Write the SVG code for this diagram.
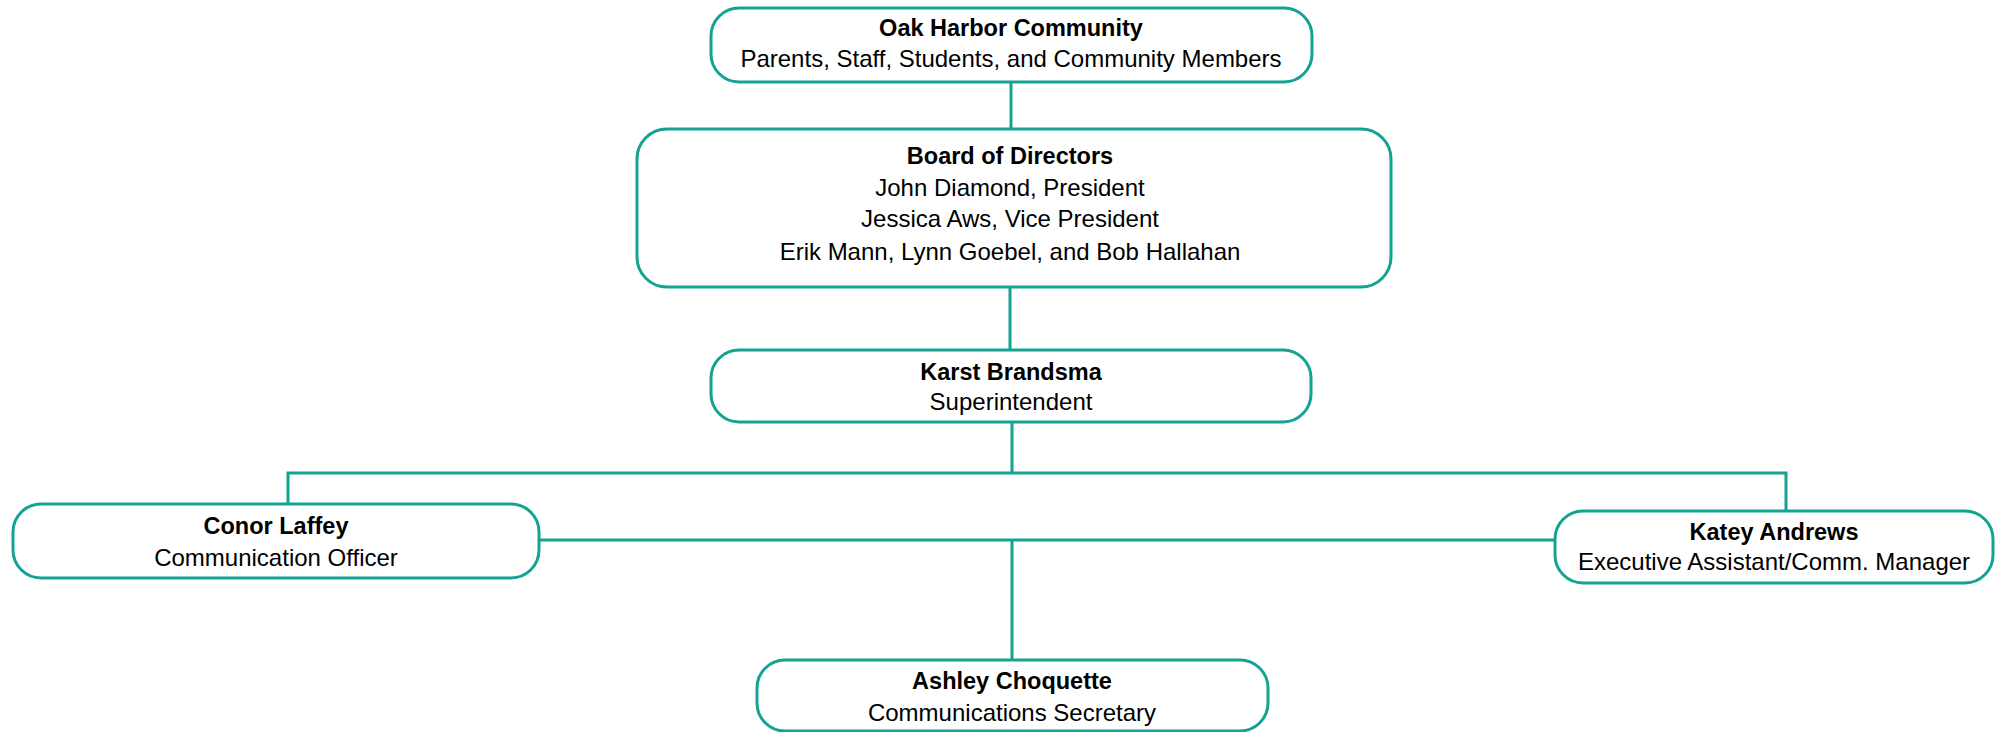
<svg xmlns="http://www.w3.org/2000/svg" width="1997" height="732" viewBox="0 0 1997 732">
<style>
.box{fill:#fff;stroke:#14a293;stroke-width:3}
.ln{fill:none;stroke:#14a293;stroke-width:3}
text{font-family:"Liberation Sans",Arial,sans-serif;font-size:24px;fill:#000;text-anchor:middle}
.b{font-weight:bold;font-size:23.5px}
</style>
<rect width="1997" height="732" fill="#fff"/>
<g id="connectors">
<line class="ln" x1="1011" y1="82" x2="1011" y2="129"/>
<line class="ln" x1="1010" y1="287" x2="1010" y2="350"/>
<line class="ln" x1="1012" y1="422" x2="1012" y2="473"/>
<polyline class="ln" points="288,504 288,473 1786,473 1786,511"/>
<line class="ln" x1="539" y1="540" x2="1555" y2="540"/>
<line class="ln" x1="1012" y1="540" x2="1012" y2="660"/>
</g>
<g id="oak">
<rect class="box" x="711" y="8" width="601" height="74" rx="28"/>
<text class="b" x="1011" y="36">Oak Harbor Community</text>
<text x="1011" y="67">Parents, Staff, Students, and Community Members</text>
</g>
<g id="board">
<rect class="box" x="637" y="129" width="754" height="158" rx="30"/>
<text class="b" x="1010" y="164">Board of Directors</text>
<text x="1010" y="196">John Diamond, President</text>
<text x="1010" y="227">Jessica Aws, Vice President</text>
<text x="1010" y="260">Erik Mann, Lynn Goebel, and Bob Hallahan</text>
</g>
<g id="karst">
<rect class="box" x="711" y="350" width="600" height="72" rx="28"/>
<text class="b" x="1011" y="380">Karst Brandsma</text>
<text x="1011" y="410">Superintendent</text>
</g>
<g id="conor">
<rect class="box" x="13" y="504" width="526" height="74" rx="28"/>
<text class="b" x="276" y="534">Conor Laffey</text>
<text x="276" y="566">Communication Officer</text>
</g>
<g id="katey">
<rect class="box" x="1555" y="511" width="438" height="72" rx="28"/>
<text class="b" x="1774" y="540">Katey Andrews</text>
<text x="1774" y="570">Executive Assistant/Comm. Manager</text>
</g>
<g id="ashley">
<rect class="box" x="757" y="660" width="511" height="71" rx="28"/>
<text class="b" x="1012" y="689">Ashley Choquette</text>
<text x="1012" y="721">Communications Secretary</text>
</g>
</svg>
